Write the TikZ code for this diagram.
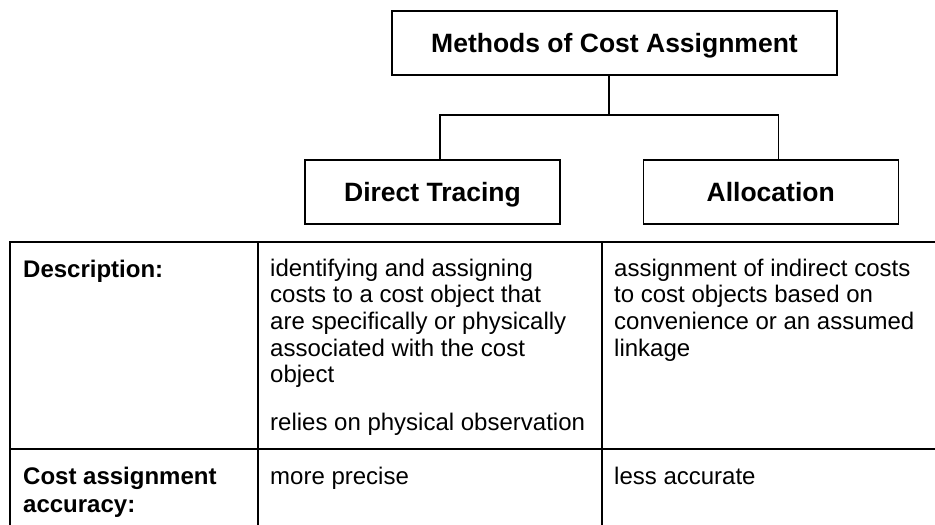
\documentclass[tikz,border=0pt]{standalone}
\usepackage{fontspec}
\setmainfont{Liberation Sans}
\usetikzlibrary{positioning}

\begin{document}
\begin{tikzpicture}[x=1pt, y=-1pt,
    box/.style={draw, line width=1.2pt, minimum width=255pt, minimum height=64pt,
        inner sep=0pt, text height=19pt, text depth=0pt,
        font=\fontsize{26.5}{30}\selectfont\bfseries},
    cell/.style={anchor=north west, inner sep=0pt, align=left,
        font=\fontsize{24}{26.7}\selectfont},
    head/.style={cell, font=\fontsize{24}{28}\selectfont\bfseries},
    rule/.style={line width=2pt}]
\useasboundingbox (0,0) rectangle (935,525);
\clip (0,0) rectangle (935,525);

% the tree
\node[box, minimum width=445pt] (meth) at (614.5,43) {Methods of Cost Assignment};
\node[box] (dt) at (432.5,192) {Direct Tracing};
\node[box, right=82pt of dt] (alloc) {Allocation};
\coordinate (split) at (609,115);
\draw[line width=1.2pt] (meth.south -| split) -- (split);
\draw[line width=1.2pt] ([xshift=7.5pt]dt.north) |- (split) -| ([xshift=7.5pt]alloc.north);

% the table
\coordinate (tl) at (10,242);
\coordinate (br) at (950,545);
\draw[rule] (tl) rectangle (br);
\draw[rule] (258,242) -- (258,545);
\draw[rule] (602,242) -- (602,545);
\draw[rule] (10,449) -- (950,449);

\node[head] (desc) at (23,259.5) {Description:};
\node[cell] (dtdesc) at (270,258.5) {identifying and assigning\\costs to a cost object that\\are specifically or physically\\associated with the cost\\object\\[21pt]relies on physical observation};
\node[cell] (aldesc) at (614,258.5) {assignment of indirect costs\\to cost objects based on\\convenience or an assumed\\linkage};
\node[head] (acc) at (23,466.5) {Cost assignment\\accuracy:};
\node[cell] (dtacc) at (270,466.5) {more precise};
\node[cell] (alacc) at (614,466.5) {less accurate};
\end{tikzpicture}
\end{document}
